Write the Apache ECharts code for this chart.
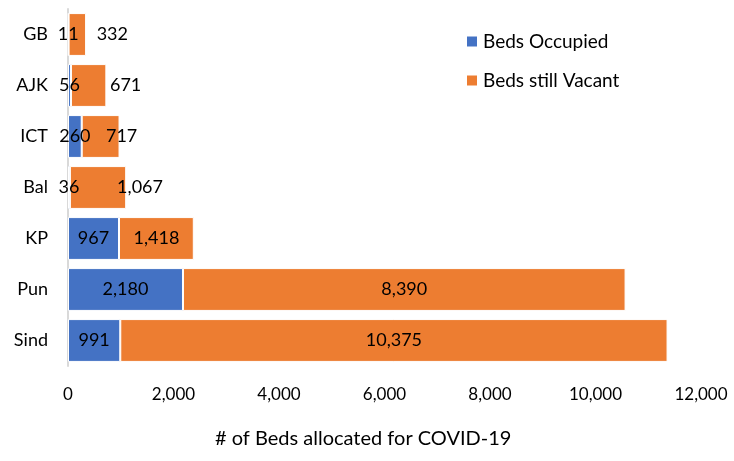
<!DOCTYPE html>
<html lang="en">
<head>
  <meta charset="UTF-8">
  <title>Beds allocated for COVID-19</title>
  <script src="https://cdn.jsdelivr.net/npm/echarts@6/dist/echarts.min.js"></script>
  <style>
    body { margin: 0; background: #fff; }
    #chart { width: 734px; height: 461px; }
  </style>
</head>
<body>
  <div id="chart"></div>
  <script>
    // bottom to top, as the axis draws them
    const regions = ['Sind', 'Pun', 'KP', 'Bal', 'ICT', 'AJK', 'GB'];
    const occupied = [991, 2180, 967, 36, 260, 56, 11];
    const vacant = [10375, 8390, 1418, 1067, 717, 671, 332];

    // the small bars had their vacant labels pushed to the right by hand
    const vacantShift = [0, 0, 0, 42, 21, 37, 35];

    const font = 'Lato, "Open Sans", sans-serif';
    const fmt = v => Number(v).toLocaleString('en-US');

    const chart = echarts.init(document.getElementById('chart'));
    chart.setOption({
      animation: false,
      textStyle: { fontFamily: font },
      title: {
        text: '# of Beds allocated for COVID-19',
        left: 210, top: 424,
        textStyle: { fontFamily: font, fontSize: 20, fontWeight: 'normal', color: '#000' }
      },
      legend: {
        orient: 'vertical',
        left: 460, top: 27,
        itemWidth: 12, itemHeight: 12, itemGap: 20,
        icon: 'rect',
        textStyle: { fontFamily: font, fontSize: 19, color: '#000' },
        data: ['Beds Occupied', 'Beds still Vacant']
      },
      grid: { left: 68, right: 33, top: 9, bottom: 95 },
      xAxis: {
        type: 'value',
        min: 0, max: 12000, interval: 2000,
        axisLine: { show: false },
        axisTick: { show: false },
        splitLine: { show: false },
        axisLabel: { fontSize: 17, color: '#000', margin: 20, formatter: fmt }
      },
      yAxis: {
        type: 'category',
        data: regions,
        axisLine: { lineStyle: { color: '#d9d9d9', width: 2 } },
        axisTick: { show: false },
        axisLabel: { fontSize: 18, color: '#000', margin: 20 }
      },
      series: [
        {
          name: 'Beds Occupied',
          type: 'bar',
          stack: 'beds',
          barCategoryGap: '16%',
          data: occupied,
          itemStyle: { color: '#4472C4', borderColor: '#fff', borderWidth: 1 },
          label: { show: true, position: 'inside', color: '#000', fontSize: 18, formatter: p => fmt(p.value) }
        },
        {
          name: 'Beds still Vacant',
          type: 'bar',
          stack: 'beds',
          data: vacant.map((v, i) => ({
            value: v,
            label: { offset: [vacantShift[i], 0] }
          })),
          itemStyle: { color: '#ED7D31', borderColor: '#fff', borderWidth: 1 },
          label: { show: true, position: 'inside', color: '#000', fontSize: 18, formatter: p => fmt(p.value) }
        }
      ]
    });
  </script>
</body>
</html>
